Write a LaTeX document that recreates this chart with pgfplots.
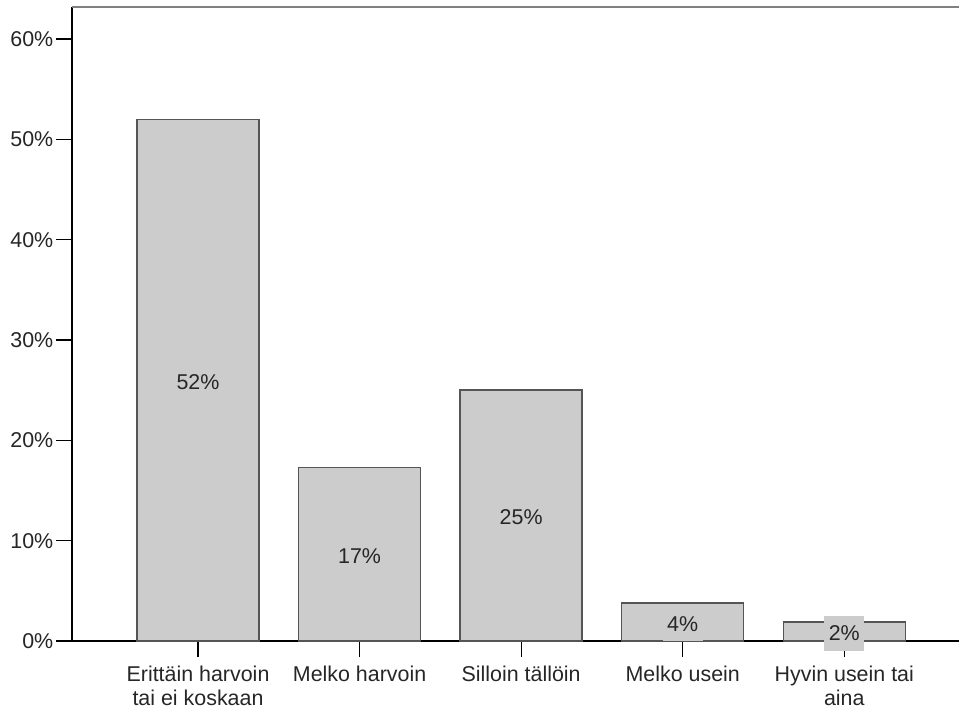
\documentclass[border=0pt]{standalone}
\usepackage{pgfplots}
\pgfplotsset{compat=1.18}
\usepackage{fontspec}
\setmainfont{Liberation Sans}

\definecolor{barfill}{RGB}{204,204,204}
\definecolor{baredge}{RGB}{85,85,85}
\definecolor{topline}{RGB}{128,128,128}

\newcommand{\chartfont}{\fontsize{21.5}{24.5}\selectfont}

\begin{document}
\begin{tikzpicture}
\begin{axis}[
  name=ax,
  scale only axis,
  width=887bp, height=634bp,
  xmin=-0.78, xmax=4.71,
  ymin=0, ymax=63.2,
  axis x line=bottom, axis y line=left,
  axis line style={-, black, line width=1.3bp},
  tick style={black, line width=1.3bp},
  major tick length=16bp,
  tick align=outside,
  xtick={0,1,2,3,4},
  xticklabels={Erittäin harvoin\\tai ei koskaan, Melko harvoin, Silloin tällöin, Melko usein, Hyvin usein tai\\aina},
  xticklabel style={align=center, font=\chartfont, text=black!85, inner sep=2bp, yshift=-6.5bp},
  ytick={0,10,...,60},
  yticklabel={\pgfmathprintnumber{\tick}\%},
  yticklabel style={font=\chartfont, text=black!85, inner sep=1.5bp, xshift=-1bp},
  /pgf/number format/assume math mode=true,
  ybar, bar width=122bp,
  clip=false,
]
\addplot[
  fill=barfill, draw=baredge, line width=1.5bp,
  point meta=y,
  nodes near coords={\pgfmathprintnumber[fixed, precision=0]{\pgfplotspointmeta}\%},
  visualization depends on={rawy \as \rawy},
  every node near coord/.append style={anchor=center, yshift=-\rawy*5.015bp-2bp,
    fill=barfill, text=black!85, font=\chartfont, inner sep=0pt,
    minimum width=40bp, minimum height=35bp},
] coordinates {
  (0,52.0)
  (1,17.3)
  (2,25.0)
  (3,3.8)
  (4,1.9)
};
\draw[topline, line width=2.5bp] (rel axis cs:0,1) -- (rel axis cs:1,1);
\end{axis}
\pgfresetboundingbox
\path[use as bounding box] ([xshift=-72bp,yshift=-73bp]ax.south west) rectangle ([yshift=7bp]ax.north east);
\end{tikzpicture}
\end{document}
